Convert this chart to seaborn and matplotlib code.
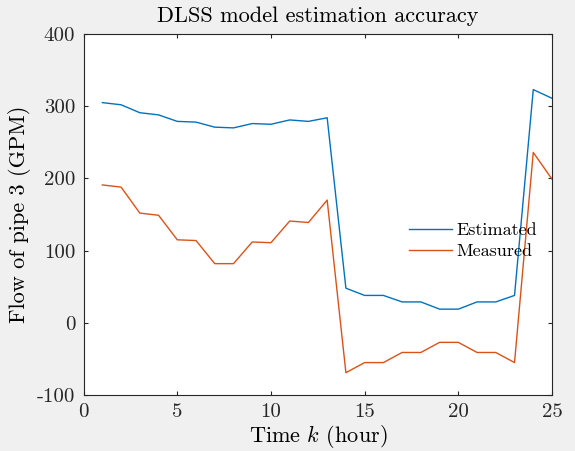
import numpy as np
import pandas as pd
import matplotlib
matplotlib.use("Agg")
import matplotlib.pyplot as plt
import seaborn as sns

hours = list(range(1, 26))
estimated = [305, 302, 291, 288, 279, 278, 271, 270, 276, 275, 281, 279, 284,
             48, 38, 38, 29, 29, 19, 19, 29, 29, 38, 323, 311]
measured = [191, 188, 152, 149, 115, 114, 82, 82, 112, 111, 141, 139, 170,
            -69, -55, -55, -41, -41, -27, -27, -41, -41, -55, 236, 199]
series_names = ["Estimated", "Measured"]
x_ticks = [0, 5, 10, 15, 20, 25]
y_ticks = [-100, 0, 100, 200, 300, 400]

df = pd.DataFrame({
    "hour": hours * 2,
    "flow": estimated + measured,
    "series": [series_names[0]] * len(hours) + [series_names[1]] * len(hours),
})

plt.rcParams["font.family"] = "cmr10"
plt.rcParams["mathtext.fontset"] = "cm"
plt.rcParams["axes.unicode_minus"] = False

fig = plt.figure(figsize=(5.75, 4.51), dpi=100, facecolor="#f0f0f0")
ax = fig.add_axes([0.1454, 0.124, 0.8146, 0.8006])
ax.set_facecolor("white")

sns.lineplot(data=df, x="hour", y="flow", hue="series",
             palette=["#0072BD", "#D95319"], linewidth=1.0, ax=ax)

ax.set_xlim(0, 25)
ax.set_ylim(-100, 400)
ax.set_xticks(x_ticks)
ax.set_yticks(y_ticks)
ax.set_xticklabels([str(t) for t in x_ticks])
ax.set_yticklabels([str(t) for t in y_ticks])
ax.tick_params(direction="in", length=3, width=0.8, top=True, right=True,
               labelsize=15, colors="#262626")
ax.tick_params(axis="x", pad=6)
ax.tick_params(axis="y", pad=6)
for s in ax.spines.values():
    s.set_color("#262626")
    s.set_linewidth(0.8)

ax.set_xlabel(r"Time $k$ (hour)", fontsize=16, labelpad=1)
ax.set_ylabel("Flow of pipe 3 (GPM)", fontsize=16, labelpad=4)
ax.set_title("DLSS model estimation accuracy", fontsize=16, pad=9)

leg = ax.legend(loc="center left", bbox_to_anchor=(0.66, 0.428), frameon=False,
                fontsize=13, handlelength=2.4, handletextpad=0.25,
                labelspacing=0.3)

fig.savefig("out.png", dpi=100, facecolor=fig.get_facecolor())
